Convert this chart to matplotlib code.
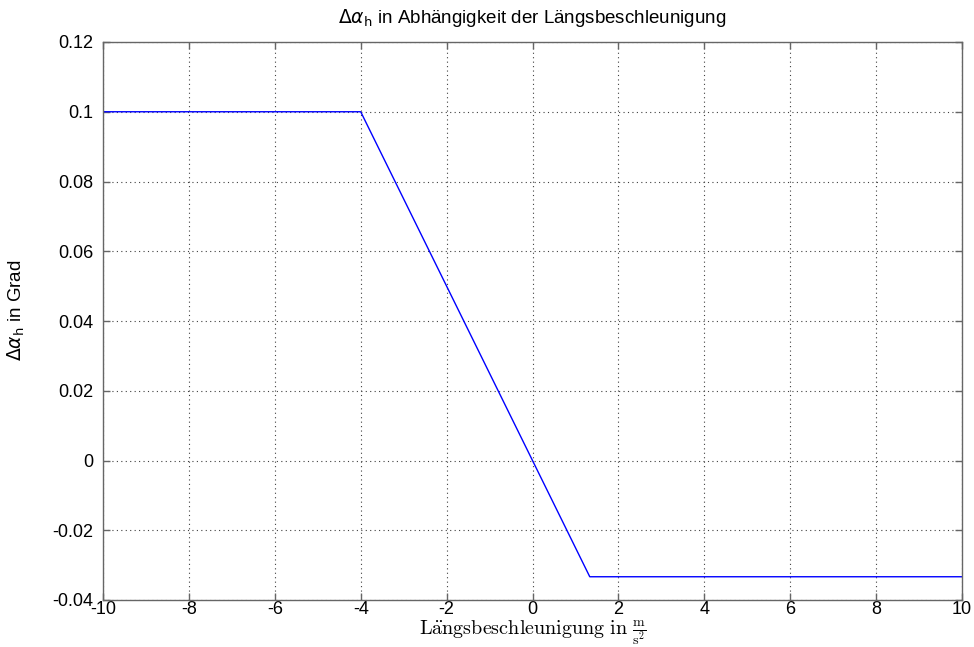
import matplotlib
matplotlib.use("Agg")
import matplotlib.pyplot as plt

# Characteristic curve: delta alpha_h vs. longitudinal acceleration
accel = [-10, -4, 4 / 3, 10]
delta_alpha = [0.1, 0.1, -1 / 30, -1 / 30]

x_ticks = [-10, -8, -6, -4, -2, 0, 2, 4, 6, 8, 10]
y_ticks = [-0.04, -0.02, 0, 0.02, 0.04, 0.06, 0.08, 0.1, 0.12]
y_tick_labels = ["-0.04", "-0.02", "0", "0.02", "0.04", "0.06", "0.08", "0.1", "0.12"]

plt.rcParams["font.family"] = ["Liberation Sans", "DejaVu Sans"]

fig = plt.figure(figsize=(9.74, 6.47), dpi=100)
ax = fig.add_axes([103 / 974, 1 - 600 / 647, (962 - 103) / 974, (600 - 42) / 647])

ax.plot(accel, delta_alpha, color=(0, 0, 1), linewidth=1.0)

ax.set_xlim(-10, 10)
ax.set_ylim(-0.04, 0.12)
ax.set_xticks(x_ticks)
ax.set_xticklabels([str(v) for v in x_ticks])
ax.set_yticks(y_ticks)
ax.set_yticklabels(y_tick_labels)

ax.grid(True, linestyle=(0, (1, 3)), color="#404040", linewidth=0.8)
ax.tick_params(direction="in", top=True, right=True, length=5, width=1,
               color="#666666", labelsize=13)
ax.tick_params(axis="y", pad=7)
ax.tick_params(axis="x", pad=1)
for s in ax.spines.values():
    s.set_color("#666666")
    s.set_linewidth(1)

ax.set_title(r"$\Delta\alpha_\mathsf{h}$ in Abhängigkeit der Längsbeschleunigung",
             fontsize=13.5, pad=14, math_fontfamily="dejavusans")
ax.set_ylabel(r"$\Delta\alpha_\mathsf{h}$ in Grad", fontsize=13.5,
              math_fontfamily="dejavusans")
ax.yaxis.set_label_coords(-0.088, 0.52)
ax.set_xlabel(r"$\mathrm{L\ddot{a}ngsbeschleunigung\ in\ }\frac{\mathrm{m}}{\mathrm{s}^2}$",
              fontsize=14.5, labelpad=0, math_fontfamily="cm")

fig.savefig("out.png", dpi=100)
